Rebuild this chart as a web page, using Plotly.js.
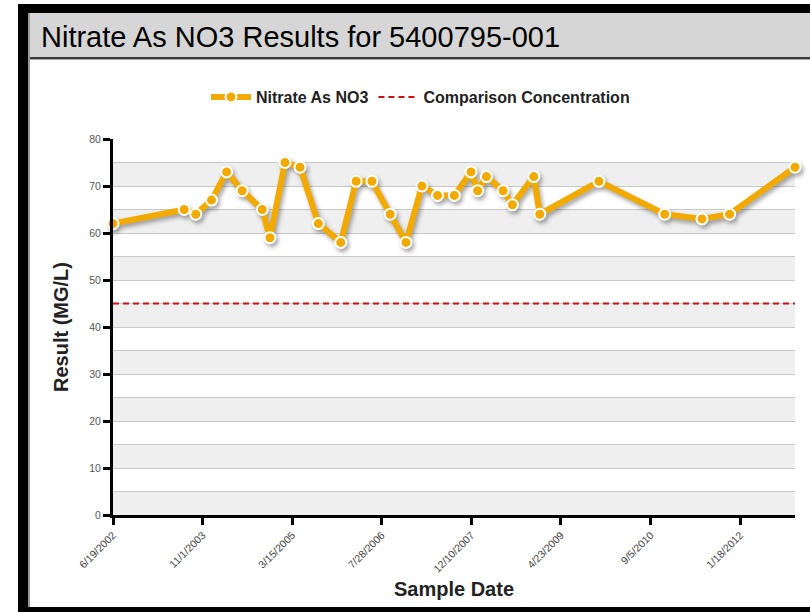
<!DOCTYPE html>
<html>
<head>
<meta charset="utf-8">
<script src="https://cdn.plot.ly/plotly-3.0.1.min.js"></script>
<style>
  html, body { margin: 0; padding: 0; background: #fff; width: 810px; height: 612px; overflow: hidden; }
  #frame { position: absolute; left: 18px; top: 4px; width: 900px; height: 608px; background: #000; }
  #inner { position: absolute; left: 28px; top: 13px; width: 900px; height: 594px; background: #fff; border-left: 2px solid #9a9a9a; box-sizing: border-box; }
  #header { position: absolute; left: 0; top: 0; width: 100%; height: 44px; background: #d6d6d6; border-bottom: 2px solid #3a3a3a; box-shadow: 0 1px 0 #aaa; }
  #chart { position: absolute; left: 0; top: 0; width: 810px; height: 612px; }
  .scatterlayer .trace:first-child { filter: drop-shadow(2px 3px 2px rgba(0,0,0,0.35)); }
</style>
</head>
<body>
<div id="frame"></div>
<div id="inner"><div id="header"></div></div>
<div id="chart"></div>
<script>
// ---- data ----
const sampleDates = ['2002-06-19','2003-07-21','2003-09-24','2003-12-21','2004-03-14','2004-06-09','2004-09-29','2004-11-11','2005-02-03','2005-04-28','2005-08-08','2005-12-11','2006-03-07','2006-06-03','2006-09-13','2006-12-10','2007-03-09','2007-06-04','2007-09-06','2007-12-08','2008-01-14','2008-03-03','2008-06-04','2008-07-26','2008-11-22','2008-12-26','2009-11-21','2010-11-23','2011-06-19','2011-11-20','2012-11-19'];
const nitrateValues = [62,65,64,67,73,69,65,59,75,74,62,58,71,71,64,58,70,68,68,73,69,72,69,66,72,64,71,64,63,64,74];
const comparisonConcentration = 45;
const xTickDates = ['2002-06-19','2003-11-01','2005-03-15','2006-07-28','2007-12-10','2009-04-23','2010-09-05','2012-01-18'];
const xTickLabels = ['6/19/2002','11/1/2003','3/15/2005','7/28/2006','12/10/2007','4/23/2009','9/5/2010','1/18/2012'];
const seriesNames = ['Nitrate As NO3', 'Comparison Concentration'];
const titleText = 'Nitrate As NO3 Results for 5400795-001';
const xTitle = 'Sample Date';
const yTitle = 'Result (MG/L)';
const yMax = 80;

// ---- build ----
const firstDate = sampleDates[0];
const lastDate = sampleDates[sampleDates.length - 1];
const ORANGE = '#f2a900';
const FONT = 'Liberation Sans, Arial, Helvetica, sans-serif';

const traces = [
  {
    x: sampleDates, y: nitrateValues, name: seriesNames[0],
    type: 'scatter', mode: 'lines+markers', cliponaxis: false,
    line: { color: ORANGE, width: 6 },
    marker: { color: ORANGE, size: 11, line: { color: '#fff', width: 2 } }
  },
  {
    x: [firstDate, lastDate], y: [comparisonConcentration, comparisonConcentration],
    name: seriesNames[1], type: 'scatter', mode: 'lines',
    line: { color: '#cc1111', width: 2, dash: '6px,4px' }
  }
];

const shapes = [];
for (let v = 0; v < yMax; v += 10) {
  shapes.push({ type: 'rect', xref: 'paper', yref: 'y', x0: 0, x1: 1, y0: v, y1: v + 5,
                fillcolor: '#efefef', line: { width: 0 }, layer: 'below' });
}

const layout = {
  width: 810, height: 612,
  paper_bgcolor: 'rgba(0,0,0,0)', plot_bgcolor: '#fff',
  margin: { l: 113, r: 15, t: 139, b: 97 },
  font: { family: FONT, color: '#222' },
  title: { text: titleText, xref: 'container', yref: 'container', x: 41 / 810, xanchor: 'left',
           y: 1 - 37 / 612, yanchor: 'middle', font: { family: FONT, size: 29, color: '#000' } },
  showlegend: true,
  legend: { orientation: 'h', x: (206 - 113) / 682, xanchor: 'left', y: 1 + (515 - 97 - 376) / 376, yanchor: 'middle',
            font: { family: FONT, size: 16, color: '#222', weight: 'bold' }, itemwidth: 40, bgcolor: 'rgba(0,0,0,0)' },
  xaxis: {
    type: 'date', range: [firstDate, lastDate],
    tickmode: 'array', tickvals: xTickDates, ticktext: xTickLabels, tickangle: -45,
    tickfont: { family: FONT, size: 10.5, color: '#444' },
    ticks: 'outside', ticklen: 7, tickwidth: 3, tickcolor: '#000',
    showline: true, linecolor: '#000', linewidth: 3,
    showgrid: false, zeroline: false,
    title: { text: xTitle, standoff: 9, font: { family: FONT, size: 20, color: '#222', weight: 'bold' } }
  },
  yaxis: {
    range: [0, yMax], dtick: 10, tick0: 0,
    tickfont: { family: FONT, size: 10.5, color: '#555' },
    ticks: 'outside', ticklen: 7, tickwidth: 3, tickcolor: '#000',
    showline: true, linecolor: '#000', linewidth: 3,
    showgrid: true, gridcolor: '#c8c8c8', gridwidth: 1,
    minor: { dtick: 5, showgrid: true, gridcolor: '#c8c8c8', gridwidth: 1 },
    zeroline: false,
    title: { text: yTitle, standoff: 16, font: { family: FONT, size: 20, color: '#222', weight: 'bold' } }
  },
  shapes: shapes
};

Plotly.newPlot('chart', traces, layout, { displayModeBar: false, staticPlot: true });
</script>
</body>
</html>
